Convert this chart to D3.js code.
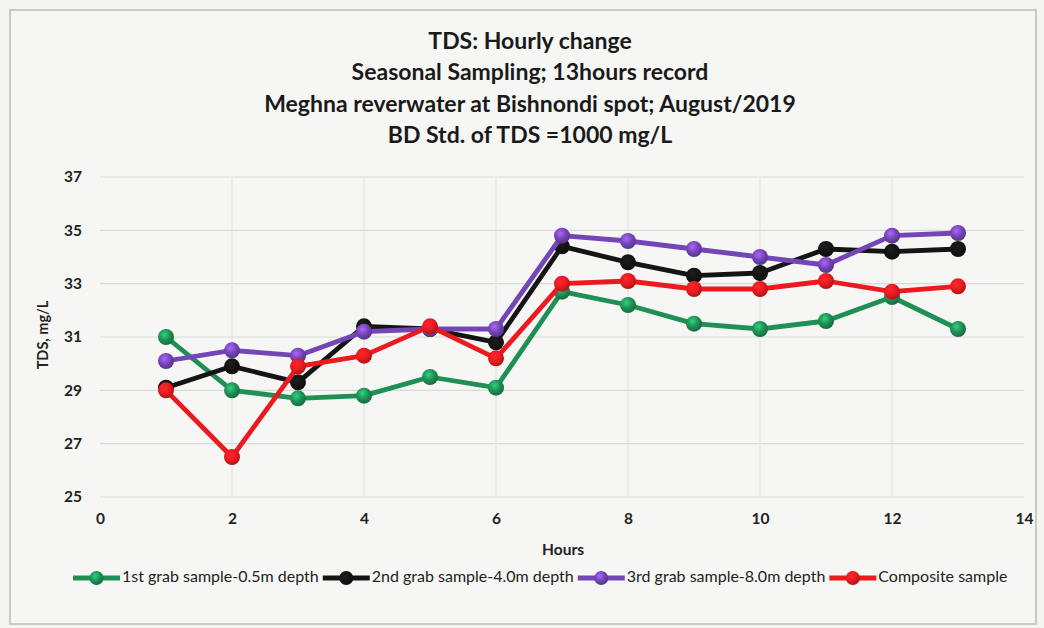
<!DOCTYPE html>
<html>
<head>
<meta charset="utf-8">
<script src="https://cdn.jsdelivr.net/npm/d3@7"></script>
<style>
  html, body { margin: 0; padding: 0; background: #f4f5f1; }
  svg { display: block; font-family: Lato, "Open Sans", sans-serif; }
</style>
</head>
<body>
<svg id="chart"></svg>
<script>
const width = 1044;
const height = 628;

// data
const hours = [1, 2, 3, 4, 5, 6, 7, 8, 9, 10, 11, 12, 13];
const grab1 = [31.0, 29.0, 28.7, 28.8, 29.5, 29.1, 32.7, 32.2, 31.5, 31.3, 31.6, 32.5, 31.3];
const grab2 = [29.1, 29.9, 29.3, 31.4, 31.3, 30.8, 34.4, 33.8, 33.3, 33.4, 34.3, 34.2, 34.3];
const grab3 = [30.1, 30.5, 30.3, 31.2, 31.3, 31.3, 34.8, 34.6, 34.3, 34.0, 33.7, 34.8, 34.9];
const composite = [29.0, 26.5, 29.9, 30.3, 31.4, 30.2, 33.0, 33.1, 32.8, 32.8, 33.1, 32.7, 32.9];

const seriesNames = [
  "1st grab sample-0.5m depth",
  "2nd grab sample-4.0m depth",
  "3rd grab sample-8.0m depth",
  "Composite sample"
];
const seriesColors = ["#1f8f55", "#141414", "#7445b6", "#ea1a1f"];
const seriesValues = [grab1, grab2, grab3, composite];

const xTicks = [0, 2, 4, 6, 8, 10, 12, 14];
const yTicks = [25, 27, 29, 31, 33, 35, 37];

const titleLines = [
  "TDS: Hourly change",
  "Seasonal Sampling; 13hours record",
  "Meghna reverwater at Bishnondi spot; August/2019",
  "BD Std. of TDS =1000 mg/L"
];

const svg = d3.select("#chart").attr("width", width).attr("height", height);

// outer frame
svg.append("rect")
  .attr("x", 0).attr("y", 0).attr("width", width).attr("height", height)
  .attr("fill", "#f4f5f1");
svg.append("rect")
  .attr("x", 10).attr("y", 10).attr("width", 1026).attr("height", 614)
  .attr("fill", "#f6f7f4")
  .attr("stroke", "#c9cac6")
  .attr("stroke-width", 2);

const margin = { top: 177, right: 20, bottom: 130, left: 100 };
const x = d3.scaleLinear().domain([0, 14]).range([margin.left, 1024]);
const y = d3.scaleLinear().domain([25, 37]).range([497, margin.top]);

// gradients for the ball markers
const defs = svg.append("defs");
seriesColors.forEach((c, i) => {
  const grad = defs.append("radialGradient")
    .attr("id", "ball" + i)
    .attr("cx", "40%").attr("cy", "35%").attr("r", "65%");
  grad.append("stop").attr("offset", "0%").attr("stop-color", d3.color(c).brighter(1.1));
  grad.append("stop").attr("offset", "55%").attr("stop-color", c);
  grad.append("stop").attr("offset", "100%").attr("stop-color", d3.color(c).darker(0.8));
});

// gridlines
svg.append("g")
  .selectAll("line")
  .data(yTicks)
  .join("line")
  .attr("x1", x(0)).attr("x2", x(14))
  .attr("y1", (d) => y(d)).attr("y2", (d) => y(d))
  .attr("stroke", "#d9dad6")
  .attr("stroke-width", 1.2);

svg.append("g")
  .selectAll("line")
  .data(xTicks.filter((d) => d > 0 && d < 14))
  .join("line")
  .attr("x1", (d) => x(d)).attr("x2", (d) => x(d))
  .attr("y1", y(37)).attr("y2", y(25))
  .attr("stroke", "#e2e3df")
  .attr("stroke-width", 1.2);

// axes (labels only, as in the reference)
const yAxis = svg.append("g")
  .attr("transform", `translate(${x(0) - 18},0)`)
  .call(d3.axisLeft(y).tickValues(yTicks).tickSize(0).tickPadding(0));
yAxis.select(".domain").remove();
yAxis.selectAll("text")
  .attr("font-size", 15.5).attr("font-weight", "bold")
  .attr("font-family", "Lato, sans-serif")
  .attr("fill", "#222");

const xAxis = svg.append("g")
  .attr("transform", `translate(0,${y(25) + 16})`)
  .call(d3.axisBottom(x).tickValues(xTicks).tickSize(0).tickPadding(0));
xAxis.select(".domain").remove();
xAxis.selectAll("text")
  .attr("font-size", 15.5).attr("font-weight", "bold")
  .attr("font-family", "Lato, sans-serif")
  .attr("fill", "#222");

// axis titles
svg.append("text")
  .attr("transform", "translate(44,335) rotate(-90)")
  .attr("text-anchor", "middle")
  .attr("dominant-baseline", "middle")
  .attr("font-size", 14.5).attr("font-weight", "bold")
  .attr("fill", "#222")
  .text("TDS, mg/L");

svg.append("text")
  .attr("x", 563).attr("y", 551)
  .attr("text-anchor", "middle")
  .attr("dominant-baseline", "middle")
  .attr("font-size", 15.5).attr("font-weight", "bold")
  .attr("fill", "#222")
  .text("Hours");

// title
svg.append("g")
  .selectAll("text")
  .data(titleLines)
  .join("text")
  .attr("x", 530)
  .attr("y", (d, i) => 43 + i * 31.5)
  .attr("text-anchor", "middle")
  .attr("dominant-baseline", "middle")
  .attr("font-size", 23).attr("font-weight", "bold")
  .attr("fill", "#1a1a1a")
  .text((d) => d);

// series
const line = d3.line()
  .x((d) => x(d.hour))
  .y((d) => y(d.value));

seriesValues.forEach((vals, i) => {
  const pts = hours.map((h, j) => ({ hour: h, value: vals[j] }));
  const g = svg.append("g");
  g.append("path")
    .datum(pts)
    .attr("fill", "none")
    .attr("stroke", seriesColors[i])
    .attr("stroke-width", 4.8)
    .attr("stroke-linejoin", "round")
    .attr("d", line);
  g.selectAll("circle")
    .data(pts)
    .join("circle")
    .attr("cx", (d) => x(d.hour))
    .attr("cy", (d) => y(d.value))
    .attr("r", 8)
    .attr("fill", `url(#ball${i})`);
});

// legend
const legend = svg.append("g").attr("transform", "translate(73,578)");
let lx = 0;
seriesNames.forEach((name, i) => {
  const item = legend.append("g").attr("transform", `translate(${lx},0)`);
  item.append("line")
    .attr("x1", 0).attr("x2", 47)
    .attr("stroke", seriesColors[i])
    .attr("stroke-width", 5);
  item.append("circle")
    .attr("cx", 23.5).attr("cy", 0).attr("r", 7)
    .attr("fill", `url(#ball${i})`);
  const t = item.append("text")
    .attr("x", 49)
    .attr("dominant-baseline", "middle")
    .attr("font-size", 16)
    .attr("fill", "#222")
    .text(name);
  lx += 49 + t.node().getComputedTextLength() + 4;
});
</script>
</body>
</html>
